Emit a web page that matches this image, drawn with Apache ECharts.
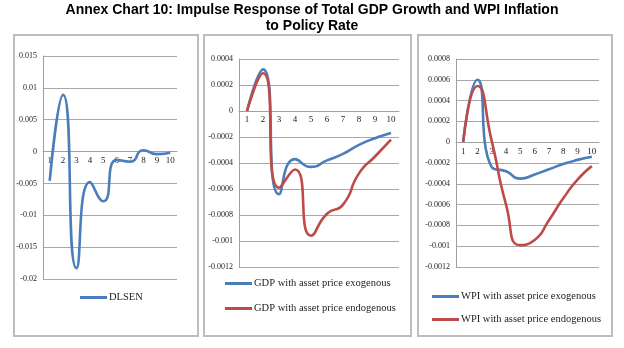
<!DOCTYPE html>
<html>
<head>
<meta charset="utf-8">
<script src="https://cdn.jsdelivr.net/npm/echarts@6/dist/echarts.min.js"></script>
<style>html,body{margin:0;padding:0;background:#fff}#c{width:624px;height:348px}</style>
</head>
<body>
<div id="c"></div>
<script>
var periods = ['1','2','3','4','5','6','7','8','9','10'];
var dlsen = [-0.0046, 0.0089, -0.0183, -0.0048, -0.0078, -0.0013, -0.0016, 0.0002, -0.0004, -0.0002];
var gdpExo = [0, 0.00032, -0.00064, -0.00037, -0.00043, -0.00038, -0.00033, -0.00026, -0.00021, -0.00017];
var gdpEndo = [0, 0.00029, -0.00059, -0.00045, -0.00096, -0.00079, -0.00072, -0.00048, -0.00035, -0.00022];
var wpiExo = [0, 0.0006, -0.00024, -0.00028, -0.00035, -0.00031, -0.00026, -0.00021, -0.00017, -0.00014];
var wpiEndo = [0, 0.00054, 0.00001, -0.0006, -0.00099, -0.00094, -0.00075, -0.00054, -0.00036, -0.00023];

var BLUE = '#4a7ebb', RED = '#be4b48';
var serif = 'Liberation Serif';
var grids = [
  {left:43, top:56, width:134, height:223, outerBoundsMode:'none', containLabel:false},
  {left:239, top:59, width:160, height:208, outerBoundsMode:'none', containLabel:false},
  {left:456, top:59, width:143, height:208, outerBoundsMode:'none', containLabel:false}
];

function xAxis(i, margin){
  return {type:'category', gridIndex:i, data:periods, boundaryGap:true, position:'bottom', offset:0,
    axisLine:{onZero:false, lineStyle:{color:'#a0a0a0', width:1}},
    axisTick:{show:false},
    axisLabel:{fontFamily:serif, fontSize:9, color:'#222', margin:margin}};
}
function yAxis(i, min, max, step){
  return {type:'value', gridIndex:i, min:min, max:max, interval:step,
    axisLine:{show:true, onZero:false, lineStyle:{color:'#a0a0a0'}},
    axisTick:{show:false},
    splitLine:{lineStyle:{color:'#a8a8a8', width:1}},
    axisLabel:{fontFamily:serif, fontSize:8, color:'#222', margin:6,
      formatter:function(v){return String(parseFloat(v.toFixed(6)));}}};
}
function series(name, data, color, i){
  return {name:name, type:'line', xAxisIndex:i, yAxisIndex:i, data:data, smooth:0.6,
    showSymbol:false, symbol:'none', lineStyle:{color:color, width:2.6}, itemStyle:{color:color}};
}
function leg(name, left, top){
  return {data:[name], left:left, top:top, icon:'rect', itemWidth:27, itemHeight:3,
    itemGap:0, padding:0, textStyle:{fontFamily:serif, fontSize:10.5, color:'#222', padding:[0,0,0,-3]}};
}
function box(x,y,w,h){
  return {type:'rect', shape:{x:x,y:y,width:w,height:h}, style:{fill:'none', stroke:'#bdbdbd', lineWidth:2}};
}
var titleStyle = {fontFamily:'Liberation Sans', fontWeight:'bold', fontSize:14, color:'#000'};

var chart = echarts.init(document.getElementById('c'));
chart.setOption({
  animation:false,
  backgroundColor:'#fff',
  title:[
    {text:'Annex Chart 10: Impulse Response of Total GDP Growth and WPI Inflation', left:'center', top:3, padding:0, textStyle:titleStyle},
    {text:'to Policy Rate', left:'center', top:19, padding:0, textStyle:titleStyle}
  ],
  graphic: [box(14,35,184,301), box(204,35,207,301), box(418,35,194,301)],
  grid: grids,
  xAxis:[xAxis(0,5), xAxis(1,4), xAxis(2,5)],
  yAxis:[yAxis(0,-0.02,0.015,0.005), yAxis(1,-0.0012,0.0004,0.0002), yAxis(2,-0.0012,0.0008,0.0002)],
  legend:[
    leg('DLSEN', 80, 292),
    leg('GDP with asset price exogenous', 225, 278),
    leg('GDP with asset price endogenous', 225, 303),
    leg('WPI with asset price exogenous', 432, 291),
    leg('WPI with asset price endogenous', 432, 314)
  ],
  series:[
    series('DLSEN', dlsen, BLUE, 0),
    series('GDP with asset price exogenous', gdpExo, BLUE, 1),
    series('GDP with asset price endogenous', gdpEndo, RED, 1),
    series('WPI with asset price exogenous', wpiExo, BLUE, 2),
    series('WPI with asset price endogenous', wpiEndo, RED, 2)
  ]
});
// move each category axis up onto the zero line of its value axis
var xs = grids.map(function(g, i){
  var zeroY = chart.convertToPixel({yAxisIndex:i}, 0);
  return {offset: zeroY - (g.top + g.height)};
});
chart.setOption({xAxis: xs});
</script>
</body>
</html>
